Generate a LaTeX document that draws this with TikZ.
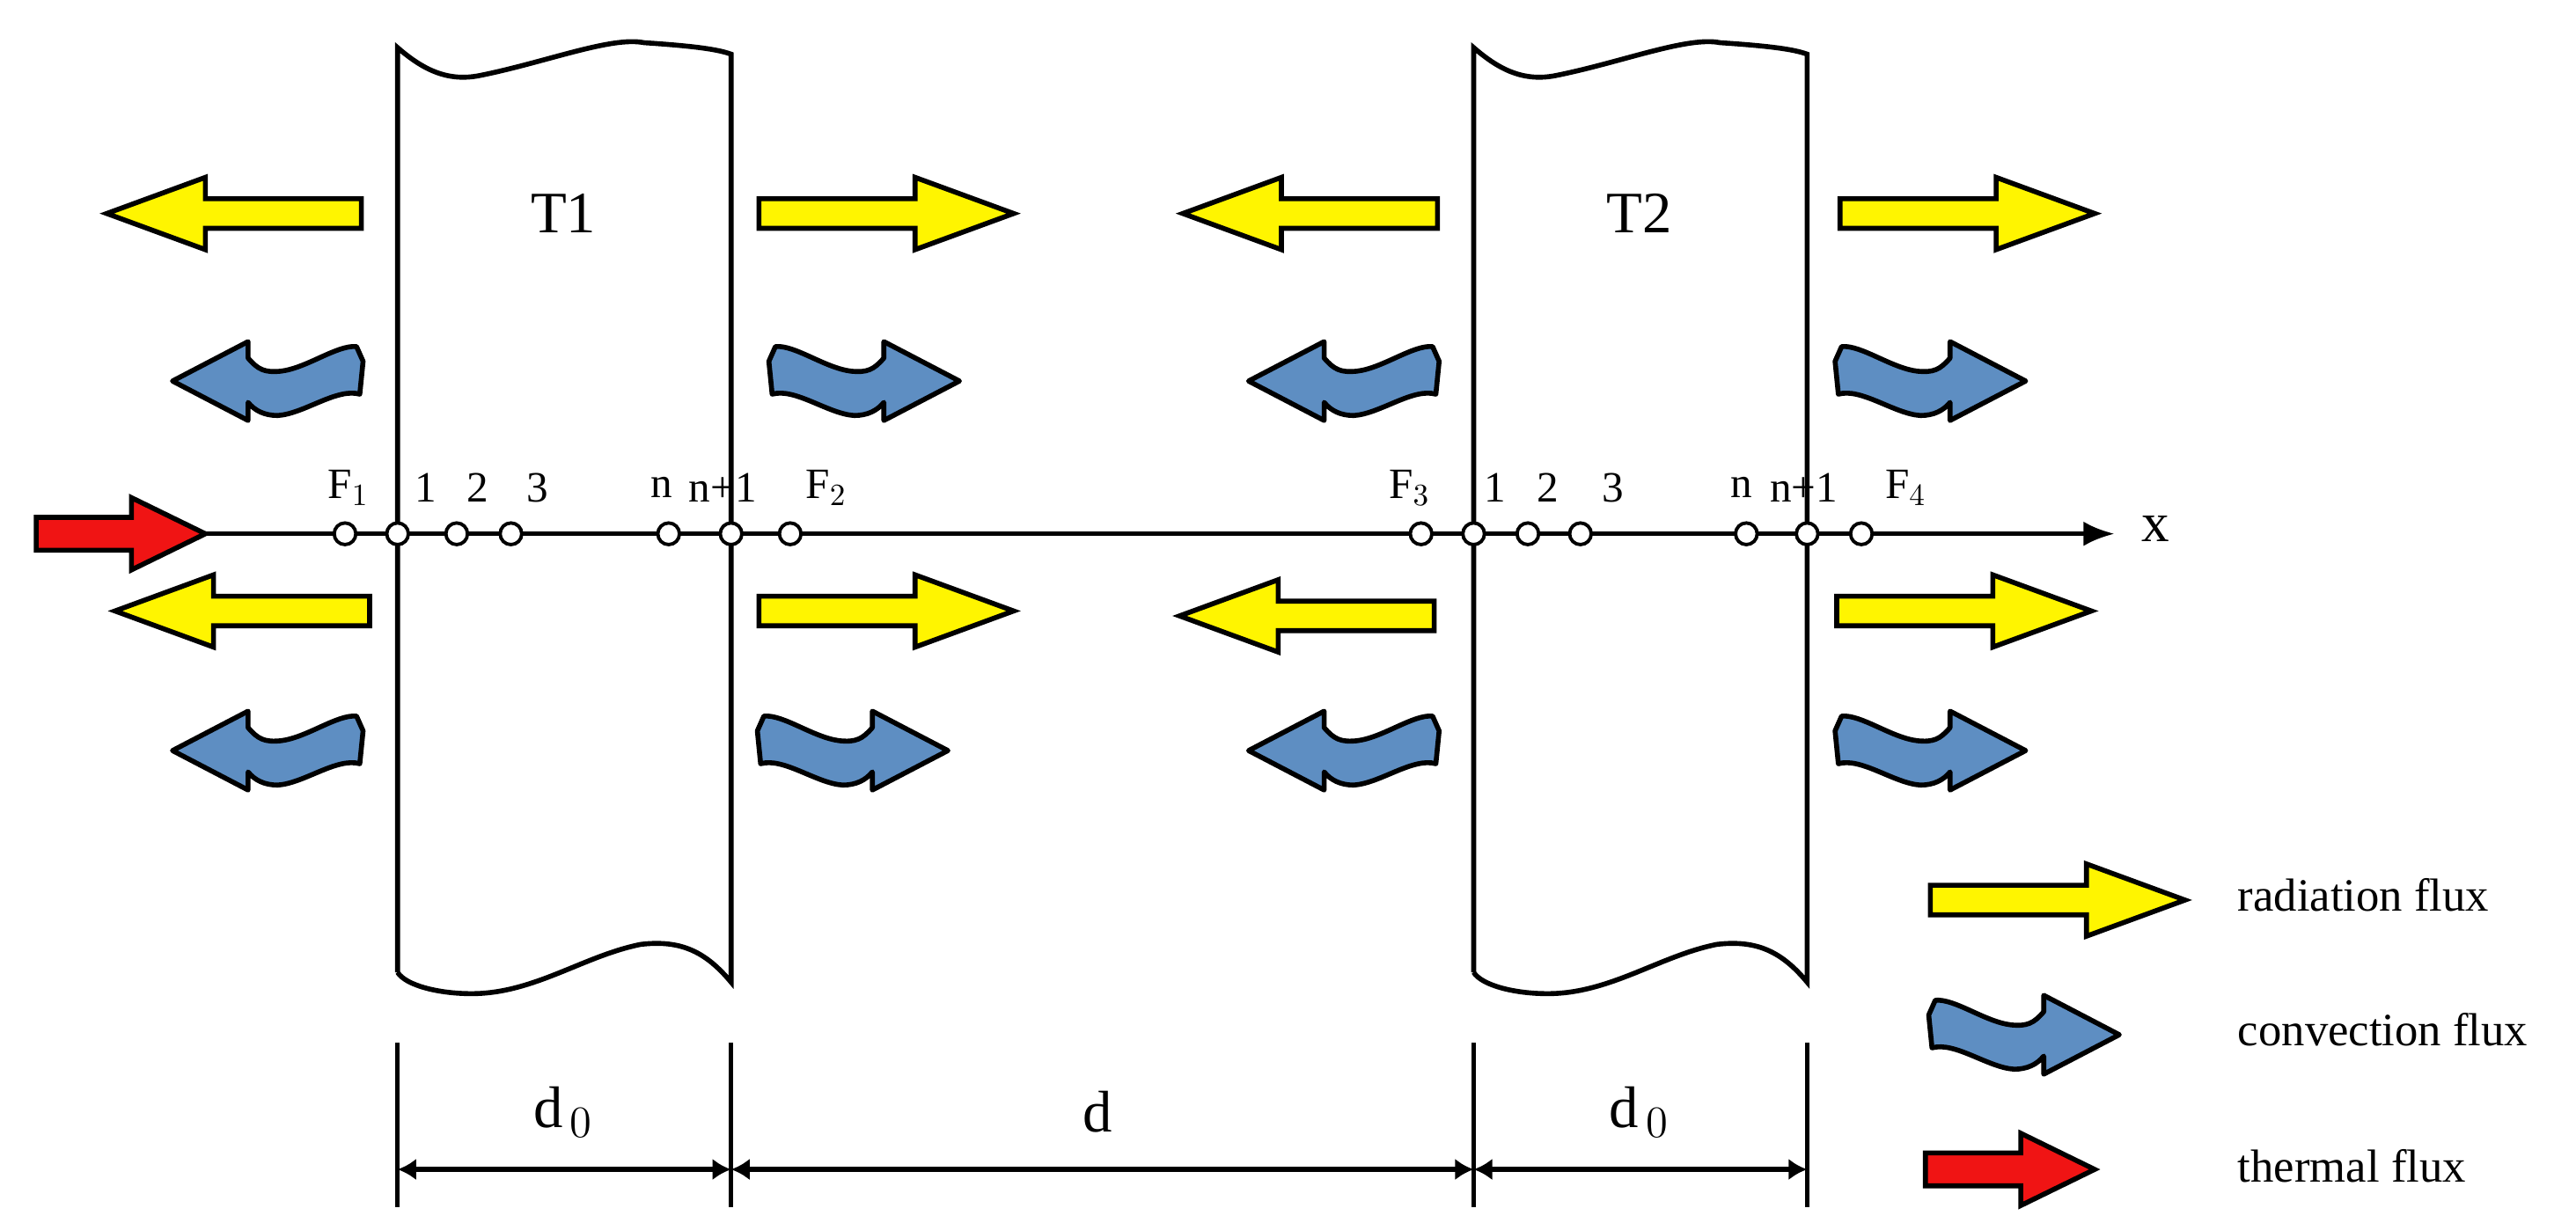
\documentclass[tikz,border=0pt]{standalone}
\usepackage{fontspec}
\setmainfont{Liberation Serif}
\usetikzlibrary{arrows.meta}
\definecolor{yel}{RGB}{255,245,0}
\definecolor{blu}{RGB}{94,142,194}
\definecolor{rd}{RGB}{240,20,20}
\begin{document}
\begin{tikzpicture}[x=0.01867cm,y=-0.01867cm,
  rad/.pic={\draw[line width=1.6pt,fill=yel,line join=miter] (0,0) -- (60,-22) -- (60,-9) -- (155,-9) -- (155,9) -- (60,9) -- (60,22) -- cycle;},
  thr/.pic={\draw[line width=1.6pt,fill=rd] (0,0) -- (-45,-22) -- (-45,-10) -- (-103,-10) -- (-103,10) -- (-45,10) -- (-45,22) -- cycle;},
  conv/.pic={\draw[line width=1.6pt,fill=blu,line join=round] (0,0) -- (46,-24) -- (46,-14) .. controls (52,-7) and (56,-5) .. (66,-6) .. controls (82,-8) and (100,-22) .. (112,-21) -- (116,-12) -- (114,8) .. controls (100,4) and (80,20) .. (64,21) .. controls (56,21) and (50,18) .. (46,13) -- (46,24) -- cycle;},
  slab/.style={line width=1.6pt},
  pt/.style={circle,draw,line width=1.1pt,fill=white,inner sep=0pt,minimum size=7pt},
  lab/.style={font=\fontsize{14}{15}\selectfont,inner sep=1pt},
  leg/.style={font=\fontsize{15}{16}\selectfont,inner sep=1pt,anchor=west},
  big/.style={font=\fontsize{19}{20}\selectfont},
  dim/.style={line width=1.6pt,{Latex[length=6pt,width=7pt]}-{Latex[length=6pt,width=7pt]}}]
\useasboundingbox (0,0) rectangle (1568,744.6);
% slabs
\foreach \a/\b in {242/445,897/1100}{
  \draw[slab] (\a,592) -- (\a,29) .. controls (\a+15,42) and (\a+30,50) .. (\a+50,46) .. controls (\a+90,38) and (\a+130,22) .. (\a+150,26) .. controls (\a+180,28) and (\a+195,30) .. (\b,33) -- (\b,598)
    .. controls (\b-15,580) and (\b-30,572) .. (\b-55,575) .. controls (\b-90,582) and (\b-120,605) .. (\a+45,605) .. controls (\a+25,605) and (\a+5,600) .. (\a,592);
}
\node[big] (T1) at (343,130) {T1};
\node[big] (T2) at (998,130) {T2};
% radiation and convection
\pic at (65,130) {rad};  \pic at (617,130) [xscale=-1] {rad};
\pic at (720,130) {rad}; \pic at (1275,130) [xscale=-1] {rad};
\pic at (70,372) {rad};  \pic at (617,372) [xscale=-1] {rad};
\pic at (718,375) {rad}; \pic at (1273,372) [xscale=-1] {rad};
\pic at (105,232) {conv}; \pic at (584,232) [xscale=-1] {conv};
\pic at (760,232) {conv}; \pic at (1233,232) [xscale=-1] {conv};
\pic at (105,457) {conv}; \pic at (577,457) [xscale=-1] {conv};
\pic at (760,457) {conv}; \pic at (1233,457) [xscale=-1] {conv};
\pic at (125,325) {thr};
% axis
\coordinate (ax0) at (125,325);
\coordinate (ax1) at (1287,325);
\draw[line width=1.4pt,-{Latex[length=10pt,width=8pt]}] (ax0) -- (ax1);
\node[font=\fontsize{18}{19}\selectfont] (xl) at (1312,322) {x};
\foreach \nm/\x in {a/210,b/242,c/278,d/311,e/407,f/445,g/481,h/865,i/897,j/930,k/962,l/1063,m/1100,o/1133}{
  \node[pt] (p\nm) at (\x,325) {};
}
\foreach \nm/\x/\t in {a/212/F$_1$,b/259/1,c/291/2,d/327/3,e/403/n,f/440/n+1,g/503/F$_2$,
  h/858/F$_3$,i/910/1,j/942/2,k/982/3,l/1060/n,m/1098/n+1,o/1160/F$_4$}{
  \node[lab] (t\nm) at (\x,297) {\t};
}
% dimensions
\foreach \x/\n in {242/A,445/B,897/C,1100/D}{
  \coordinate (\n0) at (\x,635); \coordinate (\n1) at (\x,735);
  \draw[line width=1.4pt] (\n0) -- (\n1);
  \coordinate (\n) at (\x,712);
}
\draw[dim] (A) -- (B); \draw[dim] (B) -- (C); \draw[dim] (C) -- (D);
\node[big] (d1) at (343,677) {d$_{\,0}$};
\node[big] (d2) at (668,677) {d};
\node[big] (d3) at (998,677) {d$_{\,0}$};
% legend
\pic at (1330,548) [xscale=-1] {rad};
\pic at (1290,630) [xscale=-1] {conv};
\pic at (1275,712) {thr};
\node[leg] (L1) at (1360,545) {radiation flux};
\node[leg] (L2) at (1360,627) {convection flux};
\node[leg] (L3) at (1360,710) {thermal flux};
\end{tikzpicture}
\end{document}
